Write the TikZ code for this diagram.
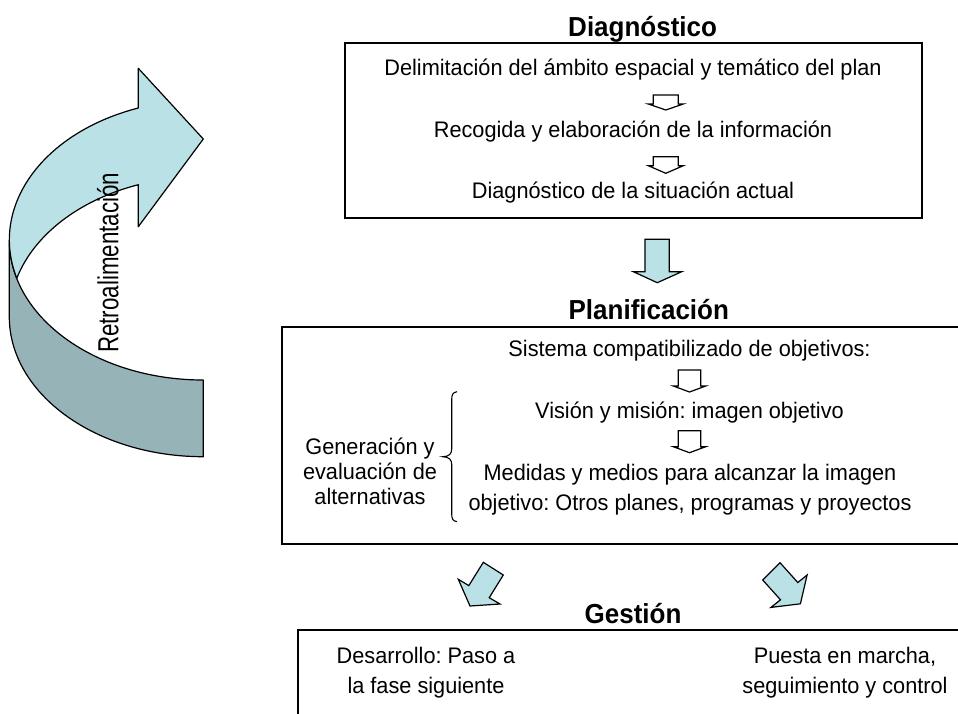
\documentclass[tikz,border=0pt]{standalone}
\usepackage{fontspec}
\setmainfont{Liberation Sans}
\newfontfamily\bodyfont{Liberation Sans}[FakeStretch=0.965]
\newfontfamily\titlefont{Liberation Sans}[FakeStretch=0.945]
\frenchspacing
\definecolor{lightaqua}{RGB}{185,225,230}
\definecolor{darkaqua}{RGB}{150,179,184}
\begin{document}
\begin{tikzpicture}[x=1pt,y=-1pt,
  box/.style={draw=black, line width=2pt},
  body/.style={font=\bodyfont\fontsize{22.5}{30}\selectfont, inner sep=0pt, anchor=base},
  ttl/.style={font=\titlefont\bfseries\fontsize{27.5}{30}\selectfont, inner sep=0pt, anchor=base},
  blockarrow/.style={draw=black, fill=lightaqua, line width=1.2pt, line join=miter},
  openarrow/.style={draw=black, fill=white, line width=1.2pt, line join=miter},
  ribbon/.style={draw=black, line width=1.2pt, line join=round},
]
\useasboundingbox (0,0) rectangle (958,713);
\begin{scope}
\clip (0,0) rectangle (958,713);

% ---- boxes ----
\draw[box] (345,43) rectangle (922,218);
\draw[box] (282,326.5) rectangle (1000,544);
\draw[box] (298,630) rectangle (1000,800);

% ---- feedback ribbon arrow ----
\draw[ribbon, fill=darkaqua] (9.3,240)
  arc[start angle=180, end angle=90, x radius=194, y radius=140]
  -- (203.3,456.7)
  arc[start angle=90, end angle=180, x radius=194, y radius=140]
  -- cycle;
\draw[ribbon, fill=lightaqua] (203.3,139) -- (138.3,226.7) -- (138.3,184.7)
  arc[start angle=250.4, end angle=195.9, x radius=194, y radius=140]
  arc[start angle=164.1, end angle=250.4, x radius=194, y radius=140]
  -- (138.3,68.3) -- cycle;
\node[rotate=90, anchor=base west, inner sep=0pt,
      font=\fontsize{29}{30}\selectfont] (retro) at (118.3,353)
  {\scalebox{0.77}[1]{Retroalimentación}};

% ---- Diagnóstico ----
\node[ttl] (tdiag) at (642.6,36) {Diagnóstico};
\node[body] (d1) at (633,75) {Delimitación del ámbito espacial y temático del plan};
\node[body] (d2) at (633,137) {Recogida y elaboración de la información};
\node[body] (d3) at (633,198) {Diagnóstico de la situación actual};
\draw[openarrow] (653.3,95) -- (678.3,95) -- (678.3,104) -- (683.3,104) -- (665.8,110)
  -- (648.3,104) -- (653.3,104) -- cycle;
\draw[openarrow] (653.3,156.7) -- (678.3,156.7) -- (678.3,165.7) -- (683.3,165.7) -- (665.8,173.3)
  -- (648.3,165.7) -- (653.3,165.7) -- cycle;

% ---- big arrow down ----
\draw[blockarrow] (645,239.3) -- (669.3,239.3) -- (669.3,271.7) -- (681.7,271.7) -- (657.3,282.7)
  -- (633.3,271.7) -- (645,271.7) -- cycle;

% ---- Planificación ----
\node[ttl] (tplan) at (648.8,319.3) {Planificación};
\node[body] (p1) at (689.5,356.7) {Sistema compatibilizado de objetivos:};
\node[body] (p2) at (689.5,418.3) {Visión y misión: imagen objetivo};
\node[body] (p3) at (690,480) {Medidas y medios para alcanzar la imagen};
\node[body] (p4) at (690,510) {objetivo: Otros planes, programas y proyectos};
\draw[openarrow] (678.3,370) -- (700.7,370) -- (700.7,386) -- (705.7,386) -- (689.5,392)
  -- (673.3,386) -- (678.3,386) -- cycle;
\draw[openarrow] (678.3,430.7) -- (700.7,430.7) -- (700.7,446.7) -- (705.7,446.7) -- (689.5,452.7)
  -- (673.3,446.7) -- (678.3,446.7) -- cycle;
\node[body] (g1) at (370,454) {Generación y};
\node[body] (g2) at (370,479) {evaluación de};
\node[body] (g3) at (370,504) {alternativas};
\draw[line width=1.1pt] (457,391.7) .. controls (452.5,392.5) and (451.7,395) .. (451.7,400)
  -- (451.7,449) .. controls (451.7,454) and (449,456.5) .. (442.7,456.7)
  .. controls (449,457) and (451.7,459.5) .. (451.7,464.5)
  -- (451.7,513.5) .. controls (451.7,518.5) and (452.5,521) .. (457,521.7);

% ---- diagonal arrows ----
\draw[blockarrow] (483.3,562.3) -- (503.3,575) -- (489.2,597.7) -- (500,604) -- (470,606)
  -- (458.3,579.3) -- (468.8,585.6) -- cycle;
\draw[blockarrow] (780,562.7) -- (762.7,580) -- (780.5,599.8) -- (770.9,607.4) -- (800.4,603.8)
  -- (807.1,575) -- (797.8,582.5) -- cycle;

% ---- Gestión ----
\node[ttl] (tgest) at (633,623) {Gestión};
\node[body] (s1) at (426,663) {Desarrollo: Paso a};
\node[body] (s2) at (426,693) {la fase siguiente};
\node[body] (s3) at (845,663) {Puesta en marcha,};
\node[body] (s4) at (845,693) {seguimiento y control};
\end{scope}
\end{tikzpicture}
\end{document}
